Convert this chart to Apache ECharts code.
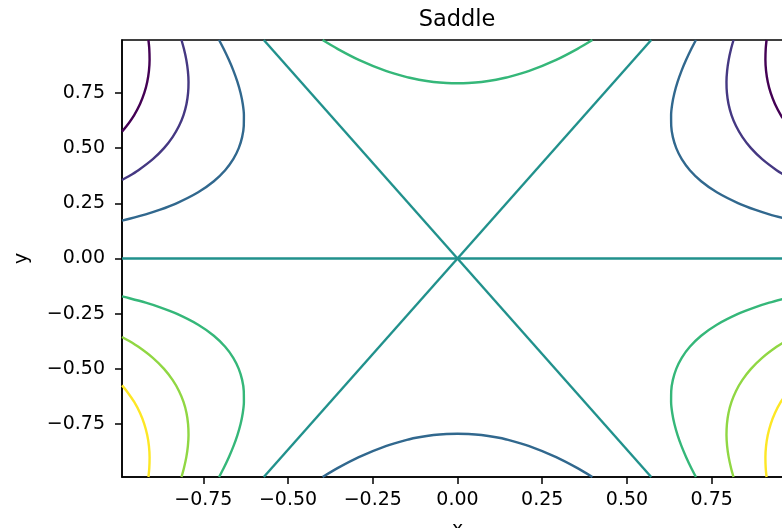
<!DOCTYPE html>
<html>
<head>
<meta charset="utf-8">
<script src="https://cdn.jsdelivr.net/npm/echarts@6/dist/echarts.min.js"></script>
<style>
html,body{margin:0;padding:0;background:#fff;}
#chart{width:782px;height:528px;}
</style>
</head>
<body>
<div id="chart"></div>
<script>
// ---- Data ----
const chartTitle = 'Saddle';
const xName = 'x';
const yName = 'y';
const xRange = [-0.99, 0.99];
const yRange = [-0.99, 0.99];
const tickValues = [-0.75, -0.5, -0.25, 0, 0.25, 0.5, 0.75];

const levels = [-1.5, -1, -0.5, 0, 0.5, 1, 1.5];
const levelColors = ['#440154', '#453882', '#31688e', '#21918c', '#35b779', '#90d743', '#fde725'];

// level 0
const zeroHorizontal = [[-0.99, 0], [0.99, 0]];
const zeroDiagonalUp = [[-0.5716, -0.99], [0.5716, 0.99]];
const zeroDiagonalDown = [[-0.5716, 0.99], [0.5716, -0.99]];

// level 0.5
const p05Top = [[-0.398, 0.99], [-0.3541, 0.95], [-0.2912, 0.9], [-0.2116, 0.85], [-0.1445, 0.82], [-0.1137, 0.81], [-0.0707, 0.8], [-0.0321, 0.795], [0, 0.7937], [0.0321, 0.795], [0.0707, 0.8], [0.1137, 0.81], [0.1445, 0.82], [0.2116, 0.85], [0.2912, 0.9], [0.3541, 0.95], [0.398, 0.99]];
const p05Right = [[0.99, -0.1718], [0.9679, -0.18], [0.9201, -0.2], [0.8796, -0.22], [0.8292, -0.25], [0.7652, -0.3], [0.7190, -0.35], [0.6856, -0.4], [0.6617, -0.45], [0.6455, -0.5], [0.6355, -0.55], [0.6307, -0.6], [0.6303, -0.65], [0.6336, -0.7], [0.6401, -0.75], [0.6494, -0.8], [0.6610, -0.85], [0.6747, -0.9], [0.6901, -0.95], [0.7036, -0.99]];
const p05Left = [[-0.99, -0.1718], [-0.9679, -0.18], [-0.9201, -0.2], [-0.8796, -0.22], [-0.8292, -0.25], [-0.7652, -0.3], [-0.7190, -0.35], [-0.6856, -0.4], [-0.6617, -0.45], [-0.6455, -0.5], [-0.6355, -0.55], [-0.6307, -0.6], [-0.6303, -0.65], [-0.6336, -0.7], [-0.6401, -0.75], [-0.6494, -0.8], [-0.6610, -0.85], [-0.6747, -0.9], [-0.6901, -0.95], [-0.7036, -0.99]];

// level -0.5
const m05Bottom = [[-0.398, -0.99], [-0.3541, -0.95], [-0.2912, -0.9], [-0.2116, -0.85], [-0.1445, -0.82], [-0.1137, -0.81], [-0.0707, -0.8], [-0.0321, -0.795], [0, -0.7937], [0.0321, -0.795], [0.0707, -0.8], [0.1137, -0.81], [0.1445, -0.82], [0.2116, -0.85], [0.2912, -0.9], [0.3541, -0.95], [0.398, -0.99]];
const m05Right = [[0.99, 0.1718], [0.9679, 0.18], [0.9201, 0.2], [0.8796, 0.22], [0.8292, 0.25], [0.7652, 0.3], [0.7190, 0.35], [0.6856, 0.4], [0.6617, 0.45], [0.6455, 0.5], [0.6355, 0.55], [0.6307, 0.6], [0.6303, 0.65], [0.6336, 0.7], [0.6401, 0.75], [0.6494, 0.8], [0.6610, 0.85], [0.6747, 0.9], [0.6901, 0.95], [0.7036, 0.99]];
const m05Left = [[-0.99, 0.1718], [-0.9679, 0.18], [-0.9201, 0.2], [-0.8796, 0.22], [-0.8292, 0.25], [-0.7652, 0.3], [-0.7190, 0.35], [-0.6856, 0.4], [-0.6617, 0.45], [-0.6455, 0.5], [-0.6355, 0.55], [-0.6307, 0.6], [-0.6303, 0.65], [-0.6336, 0.7], [-0.6401, 0.75], [-0.6494, 0.8], [-0.6610, 0.85], [-0.6747, 0.9], [-0.6901, 0.95], [-0.7036, 0.99]];

// level 1
const p10Right = [[0.99, -0.3554], [0.9729, -0.37], [0.9416, -0.4], [0.8990, -0.45], [0.8660, -0.5], [0.8408, -0.55], [0.8219, -0.6], [0.8085, -0.65], [0.7997, -0.7], [0.7950, -0.75], [0.7937, -0.8], [0.7956, -0.85], [0.8002, -0.9], [0.8073, -0.95], [0.8145, -0.99]];
const p10Left = [[-0.99, -0.3554], [-0.9729, -0.37], [-0.9416, -0.4], [-0.8990, -0.45], [-0.8660, -0.5], [-0.8408, -0.55], [-0.8219, -0.6], [-0.8085, -0.65], [-0.7997, -0.7], [-0.7950, -0.75], [-0.7937, -0.8], [-0.7956, -0.85], [-0.8002, -0.9], [-0.8073, -0.95], [-0.8145, -0.99]];

// level -1
const m10Right = [[0.99, 0.3554], [0.9729, 0.37], [0.9416, 0.4], [0.8990, 0.45], [0.8660, 0.5], [0.8408, 0.55], [0.8219, 0.6], [0.8085, 0.65], [0.7997, 0.7], [0.7950, 0.75], [0.7937, 0.8], [0.7956, 0.85], [0.8002, 0.9], [0.8073, 0.95], [0.8145, 0.99]];
const m10Left = [[-0.99, 0.3554], [-0.9729, 0.37], [-0.9416, 0.4], [-0.8990, 0.45], [-0.8660, 0.5], [-0.8408, 0.55], [-0.8219, 0.6], [-0.8085, 0.65], [-0.7997, 0.7], [-0.7950, 0.75], [-0.7937, 0.8], [-0.7956, 0.85], [-0.8002, 0.9], [-0.8073, 0.95], [-0.8145, 0.99]];

// level 1.5
const p15Right = [[0.99, -0.5747], [0.9764, -0.6], [0.9540, -0.65], [0.9368, -0.7], [0.9242, -0.75], [0.9156, -0.8], [0.9105, -0.85], [0.9086, -0.9], [0.9095, -0.95], [0.9120, -0.99]];
const p15Left = [[-0.99, -0.5747], [-0.9764, -0.6], [-0.9540, -0.65], [-0.9368, -0.7], [-0.9242, -0.75], [-0.9156, -0.8], [-0.9105, -0.85], [-0.9086, -0.9], [-0.9095, -0.95], [-0.9120, -0.99]];

// level -1.5
const m15Right = [[0.99, 0.5747], [0.9764, 0.6], [0.9540, 0.65], [0.9368, 0.7], [0.9242, 0.75], [0.9156, 0.8], [0.9105, 0.85], [0.9086, 0.9], [0.9095, 0.95], [0.9120, 0.99]];
const m15Left = [[-0.99, 0.5747], [-0.9764, 0.6], [-0.9540, 0.65], [-0.9368, 0.7], [-0.9242, 0.75], [-0.9156, 0.8], [-0.9105, 0.85], [-0.9086, 0.9], [-0.9095, 0.95], [-0.9120, 0.99]];

const contourCurves = [
  { level: -1.5, data: m15Left }, { level: -1.5, data: m15Right },
  { level: -1, data: m10Left }, { level: -1, data: m10Right },
  { level: -0.5, data: m05Left }, { level: -0.5, data: m05Right }, { level: -0.5, data: m05Bottom },
  { level: 0, data: zeroHorizontal }, { level: 0, data: zeroDiagonalUp }, { level: 0, data: zeroDiagonalDown },
  { level: 0.5, data: p05Left }, { level: 0.5, data: p05Right }, { level: 0.5, data: p05Top },
  { level: 1, data: p10Left }, { level: 1, data: p10Right },
  { level: 1.5, data: p15Left }, { level: 1.5, data: p15Right }
];

// ---- Chart ----
const FONT = 'DejaVu Sans';
const fmt = v => (v < 0 ? '\u2212' + Math.abs(v).toFixed(2) : v.toFixed(2));

const series = contourCurves.map(c => ({
  type: 'line',
  data: c.data,
  showSymbol: false,
  symbol: 'none',
  smooth: 0.3,
  clip: true,
  silent: true,
  animation: false,
  lineStyle: { color: levelColors[levels.indexOf(c.level)], width: 2.4 }
}));

const axisCommon = {
  type: 'value',
  splitLine: { show: false },
  axisLine: { show: true, onZero: false, lineStyle: { color: '#000', width: 1.5 } },
  axisTick: { show: true, length: 7, customValues: tickValues, lineStyle: { color: '#000', width: 1.5 } },
  nameTextStyle: { fontFamily: FONT, fontSize: 19, color: '#000' }
};

const chart = echarts.init(document.getElementById('chart'), null, { renderer: 'canvas' });
chart.setOption({
  animation: false,
  backgroundColor: '#fff',
  grid: { left: 122, top: 40, width: 671, height: 437, outerBoundsMode: 'none', containLabel: false, show: true, borderColor: '#000', borderWidth: 1.5, backgroundColor: 'transparent' },
  graphic: [{
    type: 'text', x: 457, y: 20,
    style: { text: chartTitle, fontFamily: FONT, fontSize: 22.5, fill: '#000', textAlign: 'center', textVerticalAlign: 'middle' }
  }],
  xAxis: Object.assign({}, axisCommon, {
    min: xRange[0], max: xRange[1],
    name: xName, nameLocation: 'middle', nameGap: 44,
    axisLabel: { customValues: tickValues, formatter: fmt, fontFamily: FONT, fontSize: 19, color: '#000', margin: 14 }
  }),
  yAxis: Object.assign({}, axisCommon, {
    min: yRange[0], max: yRange[1],
    name: yName, nameLocation: 'middle', nameGap: 90, nameRotate: 90,
    axisLabel: { customValues: tickValues, formatter: fmt, fontFamily: FONT, fontSize: 19, color: '#000', margin: 17 }
  }),
  series: series
});
</script>
</body>
</html>
